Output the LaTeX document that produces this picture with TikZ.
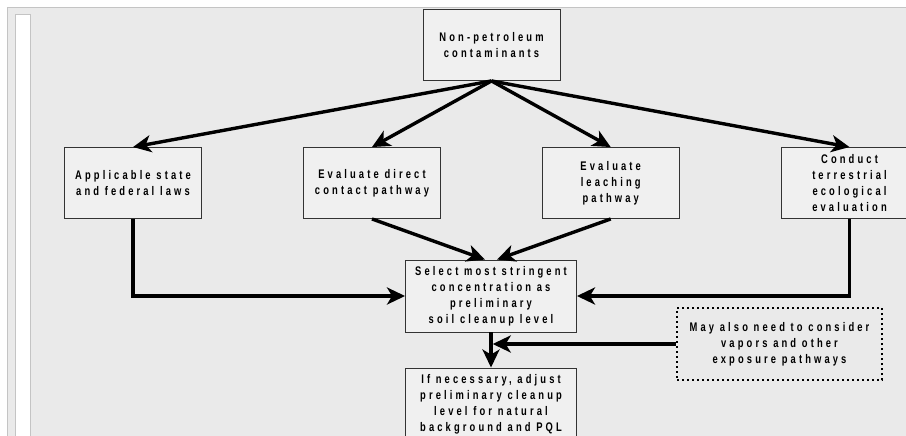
\documentclass[tikz,border=0pt]{standalone}
\usepackage{fontspec}
\newfontfamily\boxfont[FakeStretch=0.75,LetterSpace=25]{Liberation Sans}
\usetikzlibrary{arrows.meta,calc}
\definecolor{bggray}{HTML}{EAEAEA}
\definecolor{boxfill}{HTML}{F0F0F0}
\definecolor{framegray}{HTML}{C4C4C4}
\begin{document}
\begin{tikzpicture}[x=1pt,y=-1pt,
  boxtext/.style={align=center, inner sep=0pt, font=\boxfont\bfseries\fontsize{12.5}{16}\selectfont},
  box/.style={boxtext, draw=black!80, line width=0.9pt, fill=boxfill, minimum width=137pt, minimum height=71pt},
  widebox/.style={box, minimum width=171pt, minimum height=72pt},
  notebox/.style={boxtext, draw=black, line width=1.8pt, dash pattern=on 1.8pt off 3.2pt, minimum width=205pt, minimum height=72pt},
  flow/.style={line width=3.4pt, -{Stealth[length=18pt,width=17pt,inset=5pt]}}]
\useasboundingbox (0,0) rectangle (906,436);
\clip (0,0) rectangle (906,436);
\fill[white] (0,0) rectangle (906,436);
\filldraw[fill=bggray, draw=framegray] (7,7) rectangle (912,442);
\filldraw[fill=white, draw=framegray] (15,14) rectangle (30,442);

\node[box] (top) at (491.5,45) {Non-petroleum\\contaminants};
\node[box] (laws) at (133,183) {Applicable state\\and federal laws};
\node[box] (direct) at (372,183) {Evaluate direct\\contact pathway};
\node[box] (leach) at (610.7,183) {Evaluate\\leaching\\pathway};
\node[box] (eco) at (849.5,183) {Conduct\\terrestrial\\ecological\\evaluation};
\node[widebox] (select) at (491,296) {Select most stringent\\concentration as\\preliminary\\soil cleanup level};
\node[widebox] (adjust) at (491,404) {If necessary, adjust\\preliminary cleanup\\level for natural\\background and PQL};
\node[notebox] (vapor) at (779.5,344) {May also need to consider\\vapors and other\\exposure pathways};

\draw[flow] (top.south) -- (laws.north);
\draw[flow] (top.south) -- (direct.north);
\draw[flow] (top.south) -- (leach.north);
\draw[flow] (top.south) -- (eco.north);
\draw[flow] (laws.south) |- (select.west);
\draw[flow] (eco.south) |- (select.east);
\draw[flow] (direct.south) -- ([xshift=-6pt]select.north);
\draw[flow] (leach.south) -- ([xshift=6pt]select.north);
\draw[flow] (select.south) -- (adjust.north);
\coordinate (join) at ($(select.south)!0.5!(adjust.north)+(1.7,0)$);
\draw[flow] (vapor.west) -- (vapor.west -| join);
\end{tikzpicture}
\end{document}
